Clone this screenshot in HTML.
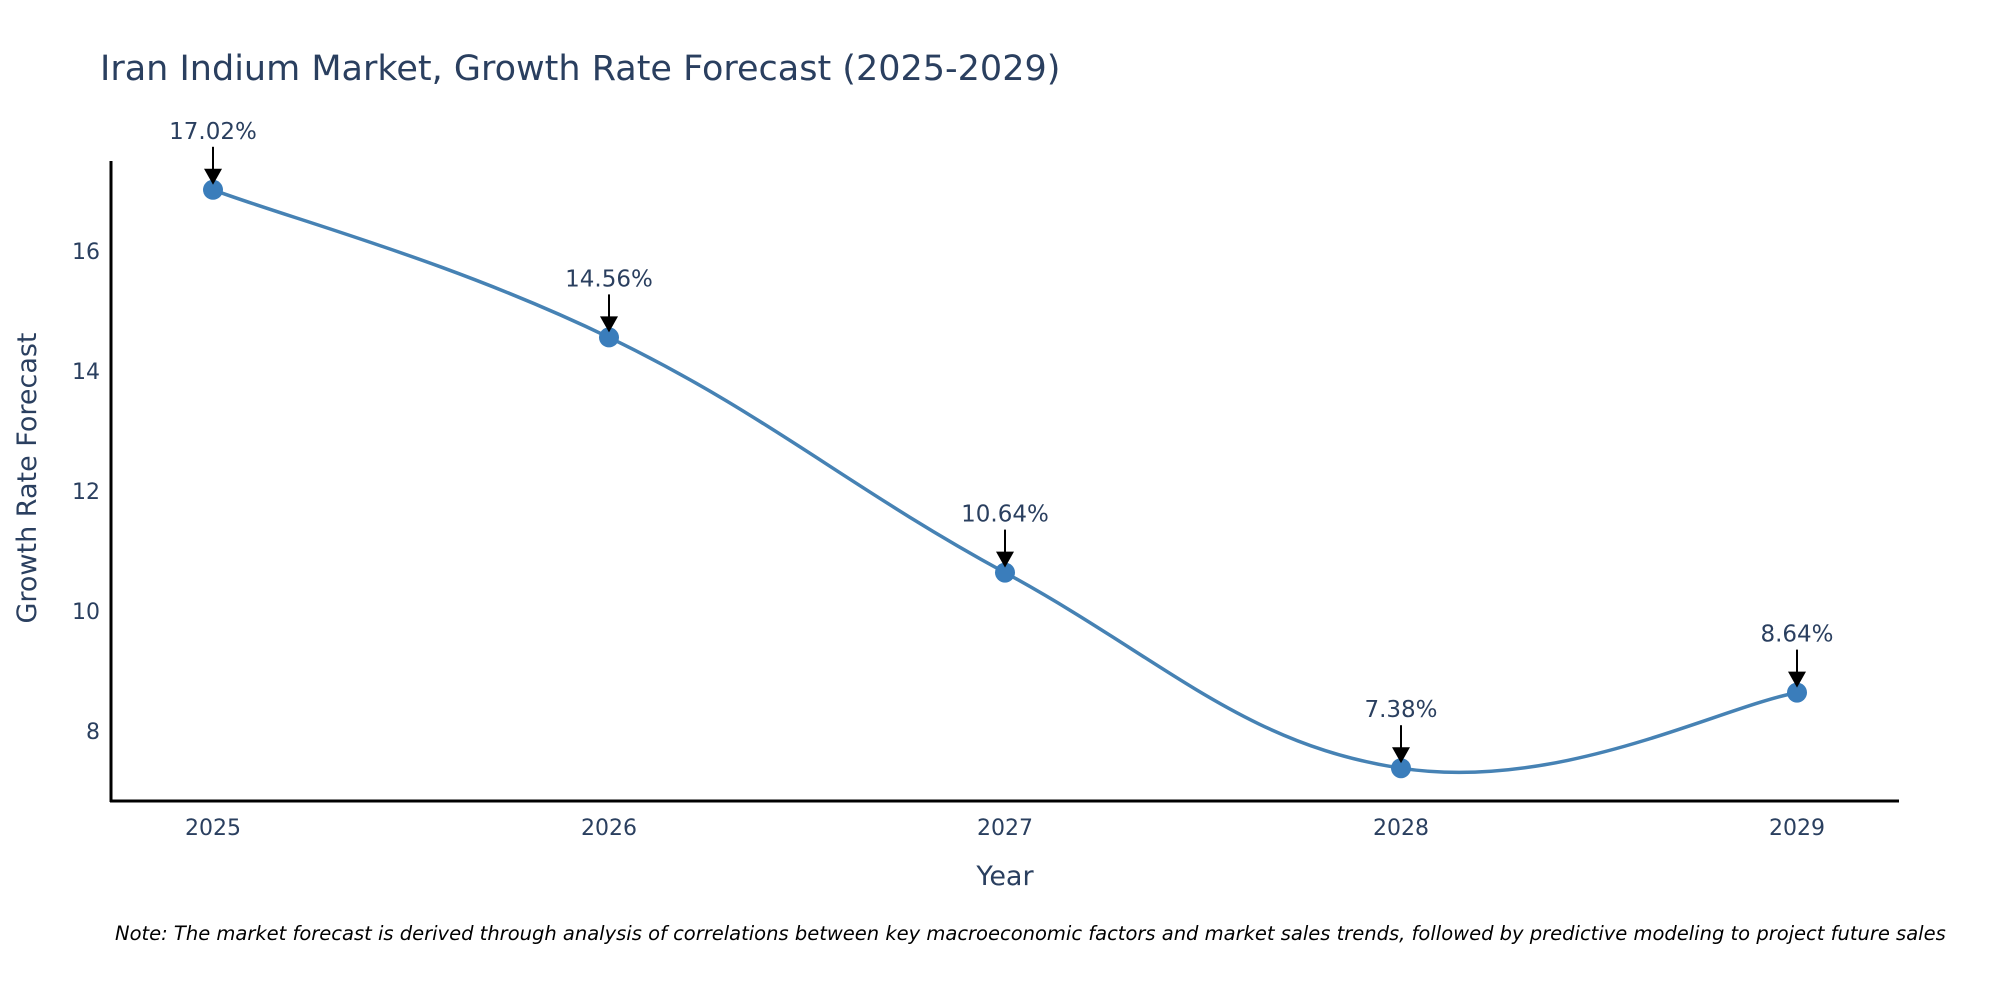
<!DOCTYPE html>
<html><head><meta charset="utf-8"><style>
body{margin:0;background:#fff;}
svg{display:block;font-family:"DejaVu Sans","Liberation Sans",sans-serif;}
</style></head><body>
<svg id="chart" width="2000" height="1000" viewBox="0 0 2000 1000">
<text x="100" y="80" font-size="35" fill="#2a3f5f">Iran Indium Market, Growth Rate Forecast (2025-2029)</text>
<g id="yticks"></g>
<g id="xticks"></g>
<line x1="111" y1="161" x2="111" y2="802" stroke="#000" stroke-width="3"/>
<line x1="110" y1="801" x2="1899" y2="801" stroke="#000" stroke-width="3"/>
<text transform="translate(36,478) rotate(-90)" text-anchor="middle" font-size="27" fill="#2a3f5f">Growth Rate Forecast</text>
<text x="1005" y="885" text-anchor="middle" font-size="27" fill="#2a3f5f">Year</text>
<g id="series"></g>
<text x="115" y="940" font-size="19.5" font-style="italic" fill="#000">Note: The market forecast is derived through analysis of correlations between key macroeconomic factors and market sales trends, followed by predictive modeling to project future sales</text>
</svg>
<script>
const years = [2025, 2026, 2027, 2028, 2029];
const rates = [17.02, 14.56, 10.64, 7.38, 8.64];
const labels = ["17.02%", "14.56%", "10.64%", "7.38%", "8.64%"];
const yTickValues = [8, 10, 12, 14, 16];

const NS = "http://www.w3.org/2000/svg";
function xScale(yr){ return 213 + (yr - 2025) * (1797 - 213) / 4; }
function yScale(v){ return 731 - (v - 8) * 60; }
function mk(tag, attrs, parent){ const e=document.createElementNS(NS,tag); for(const k in attrs) e.setAttribute(k,attrs[k]); parent.appendChild(e); return e; }

const yt=document.getElementById('yticks');
yTickValues.forEach(v=>{
  const t=mk('text',{x:100,y:yScale(v)+8,'text-anchor':'end','font-size':22,fill:'#2a3f5f'},yt);
  
  
  t.textContent=v;
});
const xt=document.getElementById('xticks');
years.forEach(y=>{
  const t=mk('text',{x:xScale(y),y:835,'text-anchor':'middle','font-size':22,fill:'#2a3f5f'},xt);
  
  
  t.textContent=y;
});

const s=document.getElementById('series');
const pts=years.map((y,i)=>[xScale(y),yScale(rates[i])]);
let d=`M${pts[0][0]},${pts[0][1]}`;
const k=0.2;
for(let i=0;i<pts.length-1;i++){
  const p0=pts[Math.max(i-1,0)],p1=pts[i],p2=pts[i+1],p3=pts[Math.min(i+2,pts.length-1)];
  const c1=[p1[0]+(p2[0]-p0[0])*k,p1[1]+(p2[1]-p0[1])*k];
  const c2=[p2[0]-(p3[0]-p1[0])*k,p2[1]-(p3[1]-p1[1])*k];
  d+=` C${c1[0]},${c1[1]} ${c2[0]},${c2[1]} ${p2[0]},${p2[1]}`;
}
const path=mk('path',{d:d,fill:'none',stroke:'#4682b4','stroke-width':3.5},s);


pts.forEach((p,i)=>{
  const c=mk('circle',{cx:p[0],cy:p[1],r:10,fill:'#3a7dbb'},s);
  
  
  const l=mk('line',{x1:p[0],y1:p[1]-43,x2:p[0],y2:p[1]-18,stroke:'#000','stroke-width':2},s);
  
  
  const h=mk('polygon',{points:`${p[0]-9},${p[1]-21} ${p[0]+9},${p[1]-21} ${p[0]},${p[1]-5}`,fill:'#000'},s);
  
  
  const t=mk('text',{x:p[0],y:p[1]-51,'text-anchor':'middle','font-size':23,fill:'#2a3f5f'},s);
  
  
  t.textContent=labels[i];
});
</script>
</body></html>
